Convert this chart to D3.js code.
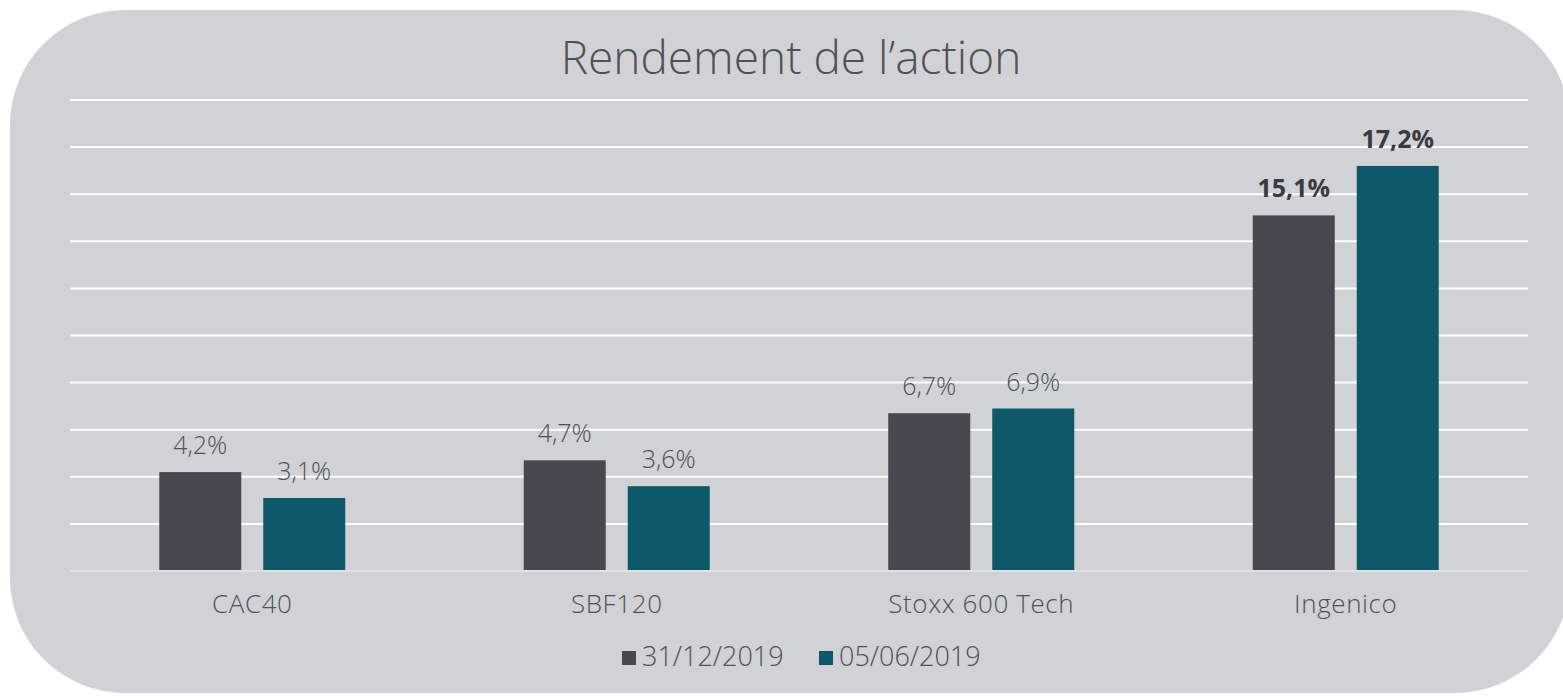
<!DOCTYPE html>
<html lang="fr">
<head>
    <meta charset="UTF-8">
    <title>Rendement de l'action</title>
    <script type="text/javascript" src="https://d3js.org/d3.v7.min.js"></script>
    <style>
        body { margin: 0; background: #fff; }
        text { font-family: "Open Sans", sans-serif; }
    </style>
</head>
<body>
<svg width="1563" height="697"></svg>

<script>
    // données
    var categories = ['CAC40', 'SBF120', 'Stoxx 600 Tech', 'Ingenico'];
    var series = ['31/12/2019', '05/06/2019'];
    var values2019 = [4.2, 4.7, 6.7, 15.1];
    var values2020 = [3.1, 3.6, 6.9, 17.2];
    var boldCategories = ['Ingenico'];

    var svg = d3.select('svg');
    var colors = ['#474950', '#0d596a'];

    // fond arrondi
    svg.append('rect')
        .attr('x', 10).attr('y', 10)
        .attr('width', 1560).attr('height', 683)
        .attr('rx', 115).attr('ry', 115)
        .attr('fill', '#d1d2d6');

    var marge = {top: 100, left: 70, right: 1528, bottom: 571};

    var x0 = d3.scaleBand()
        .domain(categories)
        .range([marge.left, marge.right]);
    var x1 = d3.scaleBand()
        .domain(series)
        .range([0, 186])
        .paddingInner(0.2115);
    var y = d3.scaleLinear()
        .domain([0, 20])
        .range([marge.bottom, marge.top]);

    // grille
    svg.append('g')
        .selectAll('line')
        .data(y.ticks(10).filter(function (d) { return d > 0; }))
        .enter()
        .append('line')
        .attr('x1', marge.left).attr('x2', marge.right)
        .attr('y1', function (d) { return y(d); })
        .attr('y2', function (d) { return y(d); })
        .attr('stroke', '#ffffff')
        .attr('stroke-width', 2);

    // titre
    svg.append('text')
        .attr('x', 791).attr('y', 74)
        .attr('text-anchor', 'middle')
        .attr('font-size', 46)
        .attr('font-weight', 300)
        .attr('fill', '#505154')
        .text('Rendement de l\u2019action');

    var rows = categories.map(function (c, i) {
        return {cat: c, vals: [values2019[i], values2020[i]]};
    });

    var groups = svg.selectAll('.grp')
        .data(rows)
        .enter()
        .append('g')
        .attr('transform', function (d) {
            return 'translate(' + (x0(d.cat) + x0.bandwidth() / 2 - 93) + ',0)';
        });

    groups.selectAll('rect')
        .data(function (d) {
            return d.vals.map(function (v, j) { return {s: series[j], v: v, j: j}; });
        })
        .enter()
        .append('rect')
        .attr('x', function (d) { return x1(d.s); })
        .attr('width', x1.bandwidth())
        .attr('y', function (d) { return y(d.v); })
        .attr('height', function (d) { return y(0) - y(d.v); })
        .attr('fill', function (d) { return colors[d.j]; });

    groups.selectAll('.lbl')
        .data(function (d) {
            var bold = boldCategories.indexOf(d.cat) >= 0;
            return d.vals.map(function (v, j) { return {s: series[j], v: v, bold: bold}; });
        })
        .enter()
        .append('text')
        .attr('x', function (d) { return x1(d.s) + x1.bandwidth() / 2; })
        .attr('y', function (d) { return y(d.v) - 18; })
        .attr('text-anchor', 'middle')
        .attr('font-size', 25)
        .attr('font-weight', function (d) { return d.bold ? 700 : 300; })
        .attr('fill', function (d) { return d.bold ? '#3a3b3e' : '#505154'; })
        .text(function (d) { return d3.format('.1f')(d.v).replace('.', ',') + '%'; });

    // axe de base
    svg.append('line')
        .attr('x1', marge.left).attr('x2', marge.right)
        .attr('y1', y(0)).attr('y2', y(0))
        .attr('stroke', '#e2e2e4')
        .attr('stroke-width', 2);

    // catégories
    svg.append('g')
        .selectAll('text')
        .data(categories)
        .enter()
        .append('text')
        .attr('x', function (d) { return x0(d) + x0.bandwidth() / 2; })
        .attr('y', 613)
        .attr('text-anchor', 'middle')
        .attr('font-size', 26)
        .attr('font-weight', 300)
        .attr('letter-spacing', 0.6)
        .attr('fill', '#505154')
        .text(function (d) { return d; });

    // légende
    var legend = svg.append('g');
    var legX = [622, 819];
    series.forEach(function (s, i) {
        legend.append('rect')
            .attr('x', legX[i]).attr('y', 651)
            .attr('width', 14).attr('height', 14)
            .attr('fill', colors[i]);
        legend.append('text')
            .attr('x', legX[i] + 20).attr('y', 666)
            .attr('font-size', 27)
            .attr('font-weight', 300)
            .attr('fill', '#505154')
            .text(s);
    });
</script>
</body>
</html>
